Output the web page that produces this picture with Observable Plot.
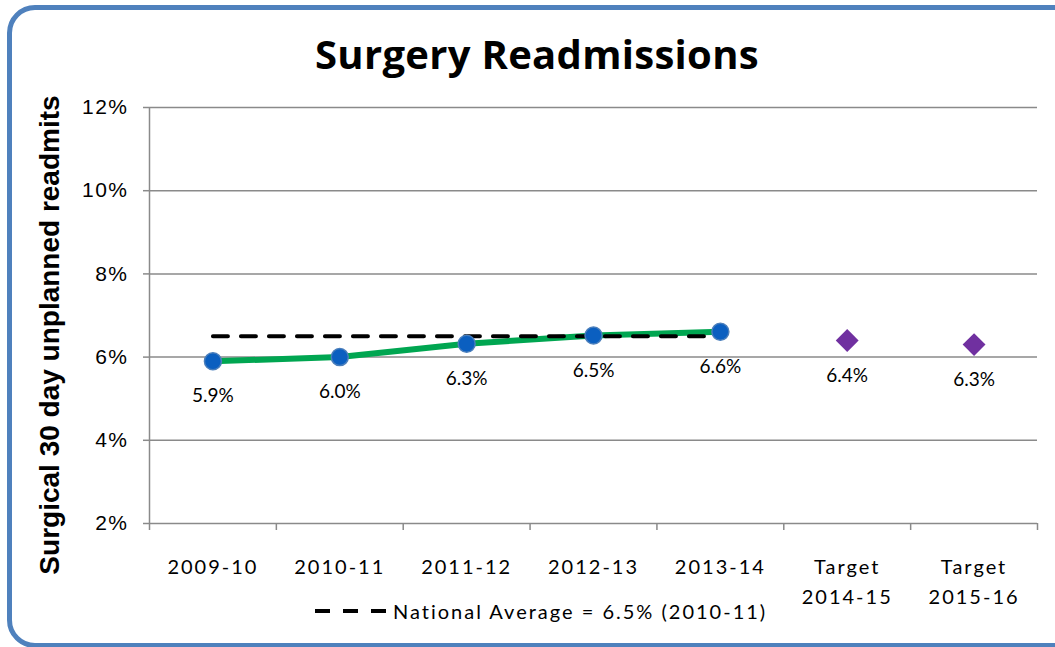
<!DOCTYPE html>
<html>
<head>
<meta charset="utf-8">
<script src="https://cdn.jsdelivr.net/npm/d3@7"></script>
<script src="https://cdn.jsdelivr.net/npm/@observablehq/plot@0.6"></script>
<style>
html, body { margin: 0; padding: 0; background: #fff; overflow: hidden; }
#wrap { position: relative; width: 1055px; height: 647px; overflow: hidden; background: #fff; }
#frame { position: absolute; left: 7px; top: 5px; width: 1090px; height: 633px; border: 5px solid #4F81BD; border-radius: 28px; }
#title { position: absolute; left: 0; top: 34px; width: 1074px; text-align: center; font-family: "Open Sans"; font-weight: bold; font-size: 40px; line-height: 40px; letter-spacing: 0.3px; color: #000; }
#ytitle { position: absolute; left: 50px; top: 335px; transform: translate(-50%, -50%) rotate(-90deg); white-space: nowrap; font-family: "Liberation Sans"; font-weight: bold; font-size: 28px; color: #000; }
#chart { position: absolute; left: 0; top: 90px; }
#legend { position: absolute; left: 315px; top: 599px; height: 24px; display: flex; align-items: center; z-index: 2; font-family: Lato; font-size: 20px; letter-spacing: 2px; color: #000; }
#legend svg { margin-right: 7px; }
g[aria-label="x-axis tick label"] text { letter-spacing: 2px; }
g[aria-label="y-axis tick label"] text { letter-spacing: 1.5px; }
g[aria-label="value label"] text { letter-spacing: 1px; }
</style>
</head>
<body>
<div id="wrap">
  <div id="frame"></div>
  <div id="title">Surgery Readmissions</div>
  <div id="ytitle">Surgical 30 day unplanned readmits</div>
  <div id="chart"></div>
  <div id="legend"></div>
</div>
<script>
// ---- data ----
const categories = ["2009-10", "2010-11", "2011-12", "2012-13", "2013-14", "Target\n2014-15", "Target\n2015-16"];
const actualYears = ["2009-10", "2010-11", "2011-12", "2012-13", "2013-14"];
const actualValues = [5.9, 6.0, 6.32, 6.52, 6.61];
const actualLabels = ["5.9%", "6.0%", "6.3%", "6.5%", "6.6%"];
const targetYears = ["Target\n2014-15", "Target\n2015-16"];
const targetValues = [6.4, 6.3];
const targetLabels = ["6.4%", "6.3%"];
const nationalAverage = 6.5;
const nationalLabel = "National Average = 6.5% (2010-11)";
const yTicks = [2, 4, 6, 8, 10, 12];

// ---- tables built from the arrays ----
const actual = actualYears.map((c, i) => ({cat: c, value: actualValues[i], label: actualLabels[i]}));
const targets = targetYears.map((c, i) => ({cat: c, value: targetValues[i], label: targetLabels[i]}));
const national = actualYears.map(c => ({cat: c, value: nationalAverage}));
const xc = d => categories.indexOf(d.cat) + 0.5;
const centers = categories.map((c, i) => i + 0.5);
const bounds = d3.range(categories.length + 1);

const gray = "#8a8a8a";
const font = "Lato";

const chart = Plot.plot({
  width: 1055,
  height: 540,
  marginTop: 17,
  marginBottom: 107,
  marginLeft: 149,
  marginRight: 18,
  style: {background: "transparent", overflow: "visible"},
  x: {domain: [0, categories.length], label: null},
  y: {domain: [2, 12], label: null},
  marks: [
    Plot.gridY(yTicks.slice(1), {stroke: gray, strokeOpacity: 1, strokeWidth: 1.5}),
    Plot.ruleY([2], {stroke: gray, strokeWidth: 1.5}),
    Plot.ruleX([0], {stroke: gray, strokeWidth: 1.5}),
    Plot.axisY(yTicks, {
      tickSize: 6, tickPadding: 15, stroke: gray, strokeWidth: 1.5,
      tickFormat: d => d + "%", fontSize: 21, fontFamily: "Liberation Sans", fill: "#000", label: null
    }),
    Plot.axisX(bounds, {tickSize: 7, stroke: gray, strokeWidth: 1.5, tickFormat: () => "", label: null}),
    Plot.axisX(centers, {
      tickSize: 0, tickPadding: 29, tickFormat: d => categories[Math.floor(d)],
      fontSize: 20, fontFamily: font, fill: "#000", lineHeight: 1.5, label: null
    }),
    Plot.line(actual, {x: xc, y: "value", stroke: "#00A651", strokeWidth: 6}),
    Plot.line(national, {x: xc, y: "value", stroke: "#000", strokeWidth: 4, strokeDasharray: "15,13"}),
    Plot.dot(actual, {x: xc, y: "value", r: 8.5, fill: "#0B5FC0", stroke: "#4A7EBB", strokeWidth: 1.5}),
    Plot.dot(targets, {x: xc, y: "value", symbol: "diamond2", r: 10.3, fill: "#7030A0", stroke: "none"}),
    Plot.text(actual.concat(targets), {
      x: xc, y: "value", text: "label", dy: 35, fontSize: 19, fontFamily: font, fill: "#000",
      ariaLabel: "value label"
    })
  ]
});
document.getElementById("chart").appendChild(chart);

// legend
const lg = d3.select("#legend");
const ls = lg.append("svg").attr("width", 71).attr("height", 10);
ls.append("line").attr("x1", 0).attr("x2", 71).attr("y1", 5).attr("y2", 5)
  .attr("stroke", "#000").attr("stroke-width", 4).attr("stroke-dasharray", "15,13");
lg.append("span").text(nationalLabel);
</script>
</body>
</html>
